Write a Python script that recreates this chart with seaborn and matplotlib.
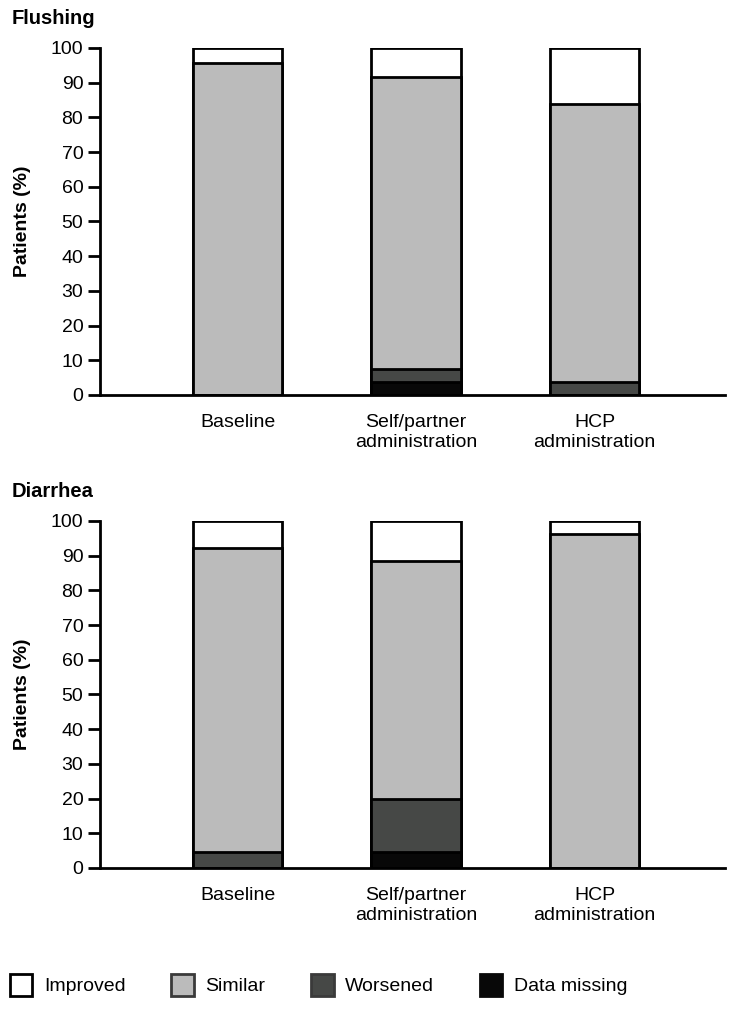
import numpy as np
import pandas as pd
import matplotlib
matplotlib.use("Agg")
import matplotlib.pyplot as plt
import seaborn as sns
from matplotlib.patches import Patch

sns.set_theme(style="white")
plt.rcParams['font.family'] = ['Liberation Sans', 'DejaVu Sans']
plt.rcParams['text.color'] = 'black'
plt.rcParams['axes.labelcolor'] = 'black'

groups = ["Baseline", "Self/partner\nadministration", "HCP\nadministration"]
categories = ["Improved", "Similar", "Worsened", "Data missing"]
colors = ["#ffffff", "#bbbbbb", "#464846", "#080808"]
legend_edges = ["#000000", "#3a3a3a", "#3a3a3a", "#080808"]

# percentages per group, bottom to top order: missing, worsened, similar, improved
flushing_missing = [0.0, 3.8, 0.0]
flushing_worsened = [0.0, 3.7, 3.8]
flushing_similar = [95.7, 84.1, 80.0]
flushing_improved = [4.3, 8.4, 16.2]

diarrhea_missing = [0.0, 4.7, 0.0]
diarrhea_worsened = [4.6, 15.1, 0.0]
diarrhea_similar = [87.7, 68.6, 96.1]
diarrhea_improved = [7.7, 11.6, 3.9]

panels = [
    ("Flushing", flushing_missing, flushing_worsened, flushing_similar, flushing_improved),
    ("Diarrhea", diarrhea_missing, diarrhea_worsened, diarrhea_similar, diarrhea_improved),
]

fig = plt.figure(figsize=(7.38, 10.1), dpi=100)
ax_rects = [[0.1355, 0.609, 0.847, 0.3435], [0.1355, 0.1406, 0.847, 0.3436]]
title_y = [0.982, 0.513]

for (title, miss, wors, sim, imp), rect, ty in zip(panels, ax_rects, title_y):
    ax = fig.add_axes(rect)
    df = pd.DataFrame({"Data missing": miss, "Worsened": wors,
                       "Similar": sim, "Improved": imp})
    # cumulative heights, drawn tallest first so the shorter ones sit on top
    cum = df.cumsum(axis=1).assign(group=groups)
    for cat, col in zip(categories, colors):
        sns.barplot(data=cum, x="group", y=cat, color=col,
                    width=0.5, edgecolor="black", linewidth=2, saturation=1,
                    ax=ax, order=groups)
    ax.set_xlim(-0.77, 2.73)
    ax.set_ylim(0, 100)
    ax.set_yticks(np.arange(0, 101, 10))
    ax.set_xlabel("")
    ax.set_ylabel("Patients (%)", fontsize=14, fontweight="bold", labelpad=14)
    for s in ["top", "right"]:
        ax.spines[s].set_visible(False)
    for s in ["left", "bottom"]:
        ax.spines[s].set_linewidth(2)
        ax.spines[s].set_color("black")
    ax.tick_params(axis="y", direction="out", length=9, width=2, labelsize=14,
                   left=True, colors="black", pad=3)
    ax.tick_params(axis="x", length=0, labelsize=14, pad=14, colors="black")
    for lab in ax.get_xticklabels():
        lab.set_multialignment("center")
    fig.text(0.016, ty, title, fontsize=14.5, fontweight="bold", va="center")

handles = [Patch(facecolor=c, edgecolor=e, linewidth=2) for c, e in zip(colors, legend_edges)]
fig.legend(handles, categories, loc="center left", bbox_to_anchor=(-0.01, 0.025),
           ncol=4, frameon=False, fontsize=14, handlelength=1.15, handleheight=1.4,
           columnspacing=2.35, handletextpad=0.6)

fig.savefig("out.png", dpi=100)
